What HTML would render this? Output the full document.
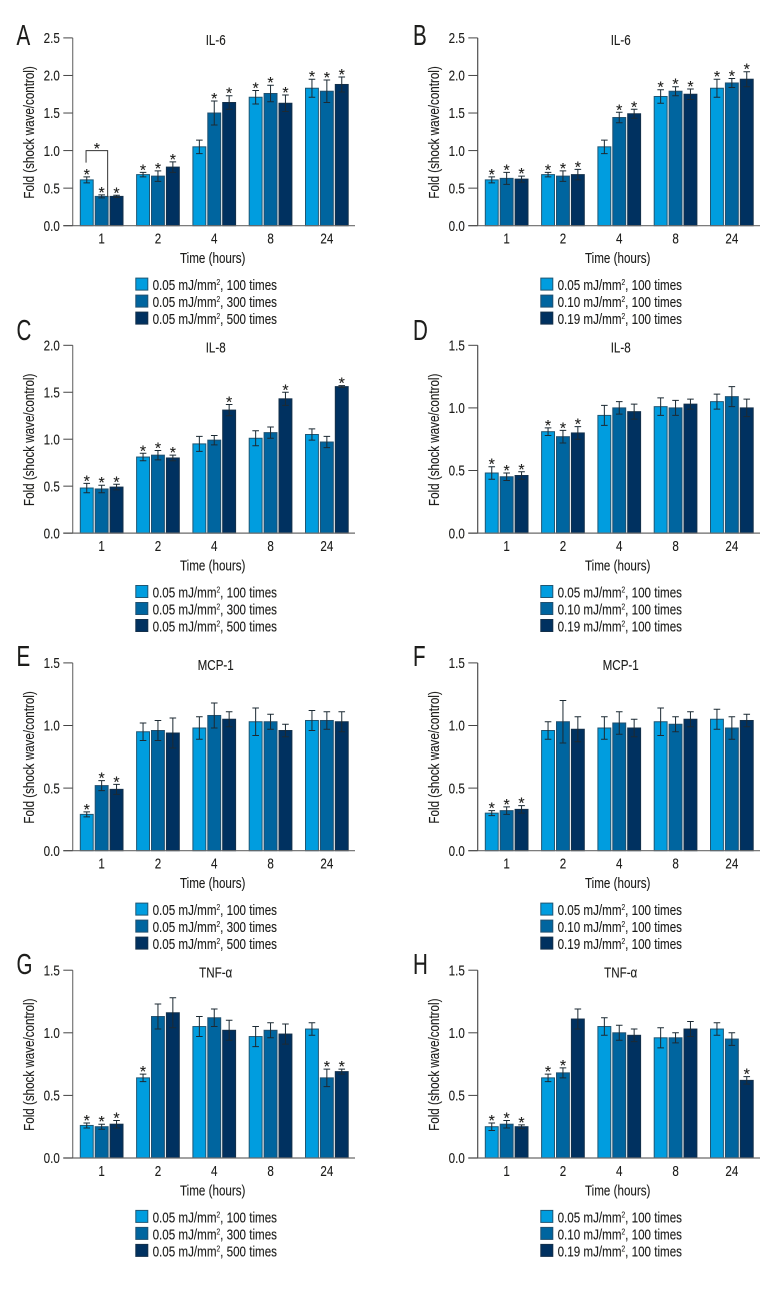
<!DOCTYPE html>
<html lang="en">
<head>
<meta charset="utf-8">
<title>Fold change of cytokines after shock wave</title>
<style>
html,body{margin:0;padding:0;background:#fff;}
svg{display:block;}
text{font-family:"Liberation Sans",sans-serif;fill:#1d1d1b;stroke:#1d1d1b;stroke-width:0.12px;}
</style>
</head>
<body>
<svg id="figure" xmlns="http://www.w3.org/2000/svg" width="780" height="1290" viewBox="0 0 780 1290"></svg>
<script>
// Shared categories and labels
const timeCategories = ['1', '2', '4', '8', '24'];
const legendEnergyLabels = ['0.05 mJ/mm', '0.05 mJ/mm', '0.05 mJ/mm'];
const legendEnergyLabelsDose = ['0.05 mJ/mm', '0.10 mJ/mm', '0.19 mJ/mm'];
const legendTimesLabels = [', 100 times', ', 300 times', ', 500 times'];
const legendTimesLabelsDose = [', 100 times', ', 100 times', ', 100 times'];
const yTicks25 = ['0.0', '0.5', '1.0', '1.5', '2.0', '2.5'];
const yTicks20 = ['0.0', '0.5', '1.0', '1.5', '2.0'];
const yTicks15 = ['0.0', '0.5', '1.0', '1.5'];

// Panel A
const aLow = [0.61, 0.68, 1.05, 1.71, 1.83];
const aMid = [0.39, 0.66, 1.50, 1.76, 1.79];
const aHigh = [0.39, 0.78, 1.64, 1.63, 1.88];
const aLowErr = [0.04, 0.03, 0.09, 0.09, 0.12];
const aMidErr = [0.02, 0.07, 0.16, 0.11, 0.15];
const aHighErr = [0.015, 0.07, 0.09, 0.11, 0.10];
const aStars = [1,1,1, 1,1,1, 0,1,1, 1,1,1, 1,1,1];
// Panel A significance bracket levels: left end, top, right end
const aBracketLevels = [0.84, 1.0, 0.38];

// Panel B
const bLow = [0.61, 0.68, 1.05, 1.72, 1.83];
const bMid = [0.63, 0.66, 1.44, 1.79, 1.90];
const bHigh = [0.62, 0.68, 1.49, 1.75, 1.95];
const bLowErr = [0.04, 0.03, 0.09, 0.09, 0.12];
const bMidErr = [0.08, 0.07, 0.07, 0.06, 0.06];
const bHighErr = [0.04, 0.07, 0.06, 0.07, 0.10];
const bStars = [1,1,1, 1,1,1, 0,1,1, 1,1,1, 1,1,1];

// Panel C
const cLow = [0.48, 0.81, 0.95, 1.01, 1.05];
const cMid = [0.47, 0.83, 0.99, 1.07, 0.97];
const cHigh = [0.49, 0.80, 1.31, 1.43, 1.56];
const cLowErr = [0.05, 0.04, 0.08, 0.08, 0.06];
const cMidErr = [0.04, 0.05, 0.05, 0.06, 0.06];
const cHighErr = [0.03, 0.03, 0.06, 0.07, 0.01];
const cStars = [1,1,1, 1,1,1, 0,0,1, 0,0,1, 0,0,1];

// Panel D
const dLow = [0.48, 0.81, 0.94, 1.01, 1.05];
const dMid = [0.45, 0.77, 1.00, 1.00, 1.09];
const dHigh = [0.46, 0.80, 0.97, 1.03, 1.00];
const dLowErr = [0.05, 0.03, 0.08, 0.07, 0.06];
const dMidErr = [0.03, 0.05, 0.05, 0.06, 0.08];
const dHighErr = [0.03, 0.05, 0.06, 0.04, 0.07];
const dStars = [1,1,1, 1,1,1, 0,0,0, 0,0,0, 0,0,0];

// Panel E
const eLow = [0.29, 0.95, 0.98, 1.03, 1.04];
const eMid = [0.52, 0.96, 1.08, 1.03, 1.04];
const eHigh = [0.49, 0.94, 1.05, 0.96, 1.03];
const eLowErr = [0.02, 0.07, 0.09, 0.11, 0.08];
const eMidErr = [0.04, 0.08, 0.10, 0.06, 0.07];
const eHighErr = [0.04, 0.12, 0.06, 0.05, 0.08];
const eStars = [1,1,1, 0,0,0, 0,0,0, 0,0,0, 0,0,0];

// Panel F
const fLow = [0.30, 0.96, 0.98, 1.03, 1.05];
const fMid = [0.32, 1.03, 1.02, 1.01, 0.98];
const fHigh = [0.33, 0.97, 0.98, 1.05, 1.04];
const fLowErr = [0.02, 0.07, 0.09, 0.11, 0.08];
const fMidErr = [0.03, 0.17, 0.09, 0.06, 0.09];
const fHighErr = [0.03, 0.10, 0.07, 0.06, 0.05];
const fStars = [1,1,1, 0,0,0, 0,0,0, 0,0,0, 0,0,0];

// Panel G
const gLow = [0.26, 0.64, 1.05, 0.97, 1.03];
const gMid = [0.25, 1.13, 1.12, 1.02, 0.64];
const gHigh = [0.27, 1.16, 1.02, 0.99, 0.69];
const gLowErr = [0.02, 0.03, 0.08, 0.08, 0.05];
const gMidErr = [0.02, 0.10, 0.07, 0.06, 0.07];
const gHighErr = [0.03, 0.12, 0.08, 0.08, 0.02];
const gStars = [1,1,1, 1,0,0, 0,0,0, 0,0,0, 0,1,1];

// Panel H
const hLow = [0.25, 0.64, 1.05, 0.96, 1.03];
const hMid = [0.27, 0.68, 1.00, 0.96, 0.95];
const hHigh = [0.25, 1.11, 0.98, 1.03, 0.62];
const hLowErr = [0.03, 0.03, 0.07, 0.08, 0.05];
const hMidErr = [0.03, 0.04, 0.06, 0.04, 0.05];
const hHighErr = [0.015, 0.08, 0.05, 0.06, 0.03];
const hStars = [1,1,1, 1,1,0, 0,0,0, 0,0,0, 0,0,1];

const panels = [
  {id:'a', letter:'A', title:'IL-6', col:0, row:0, ticks:yTicks25, vals:[aLow,aMid,aHigh], errs:[aLowErr,aMidErr,aHighErr], stars:aStars, energy:legendEnergyLabels, times:legendTimesLabels},
  {id:'b', letter:'B', title:'IL-6', col:1, row:0, ticks:yTicks25, vals:[bLow,bMid,bHigh], errs:[bLowErr,bMidErr,bHighErr], stars:bStars, energy:legendEnergyLabelsDose, times:legendTimesLabelsDose},
  {id:'c', letter:'C', title:'IL-8', col:0, row:1, ticks:yTicks20, vals:[cLow,cMid,cHigh], errs:[cLowErr,cMidErr,cHighErr], stars:cStars, energy:legendEnergyLabels, times:legendTimesLabels},
  {id:'d', letter:'D', title:'IL-8', col:1, row:1, ticks:yTicks15, vals:[dLow,dMid,dHigh], errs:[dLowErr,dMidErr,dHighErr], stars:dStars, energy:legendEnergyLabelsDose, times:legendTimesLabelsDose},
  {id:'e', letter:'E', title:'MCP-1', col:0, row:2, ticks:yTicks15, vals:[eLow,eMid,eHigh], errs:[eLowErr,eMidErr,eHighErr], stars:eStars, energy:legendEnergyLabels, times:legendTimesLabels},
  {id:'f', letter:'F', title:'MCP-1', col:1, row:2, ticks:yTicks15, vals:[fLow,fMid,fHigh], errs:[fLowErr,fMidErr,fHighErr], stars:fStars, energy:legendEnergyLabelsDose, times:legendTimesLabelsDose},
  {id:'g', letter:'G', title:'TNF-\u03b1', col:0, row:3, ticks:yTicks15, vals:[gLow,gMid,gHigh], errs:[gLowErr,gMidErr,gHighErr], stars:gStars, energy:legendEnergyLabels, times:legendTimesLabels},
  {id:'h', letter:'H', title:'TNF-\u03b1', col:1, row:3, ticks:yTicks15, vals:[hLow,hMid,hHigh], errs:[hLowErr,hMidErr,hHighErr], stars:hStars, energy:legendEnergyLabelsDose, times:legendTimesLabelsDose}
];

const NS = 'http://www.w3.org/2000/svg';
const root = document.getElementById('figure');
const barColors = ['#009ddf', '#00659f', '#003160'];
const barStrokes = ['#1f5673', '#21506f', '#14304a'];
const rowBaselineOffsets = [0, 307.4, 625, 932.3];
const PLOT_H = 187.8, BAR_W = 12.9, GROUP_STEP = 56.3, BAR_STEP = 14.9, CONDENSE = 0.775, LABEL_SIZE = 15;

function baseline(row) { return 225.7 + rowBaselineOffsets[row]; }
function panelDx(col) { return col * 405; }
function xBar(col, g, s) { return 80.3 + panelDx(col) + g * GROUP_STEP + s * BAR_STEP; }
function xGroup(col, g) { return xBar(col, g, 1) + BAR_W / 2; }
function yValue(row, v, max) { return baseline(row) - (v / max) * PLOT_H; }

function make(tag, parent) {
  const el = document.createElementNS(NS, tag);
  parent.appendChild(el);
  return el;
}
function setAll(el, o) { for (const k in o) el.setAttribute(k, o[k]); }
function place(el, x, y, size, anchor, extra, condense) {
  setAll(el, {transform: 'translate(' + x + ',' + y + ') ' + (extra || '') + ' scale(' + (condense || CONDENSE) + ',1)', 'font-size': size, 'text-anchor': anchor});
}

panels.forEach(function (p) {
  const y0 = baseline(p.row);
  const dx = panelDx(p.col);
  const yMax = parseFloat(p.ticks[p.ticks.length - 1]);
  const axisColor = p.col === 0 ? '#767676' : '#4f4f4f';

  const g = make('g', root);
  
  

  const letter = make('text', g);
  
  
  const letterBase = [45, 340, 666, 974][p.row];
  place(letter, 16.5 + dx - (p.col ? 8.5 : 0), letterBase, 28.5, 'start', '', 0.72);
  letter.textContent = p.letter;

  const title = make('text', g);
  
  
  place(title, 215.7 + dx, y0 - PLOT_H + 7.2, LABEL_SIZE, 'middle');
  title.textContent = p.title;

  const yTitle = make('text', g);
  
  
  place(yTitle, 33.8 + dx, y0 - 93.3, LABEL_SIZE, 'middle', 'rotate(-90)');
  yTitle.textContent = 'Fold (shock wave/control)';

  const xTitle = make('text', g);
  
  
  place(xTitle, 212.7 + dx, y0 + 37.5, LABEL_SIZE, 'middle');
  xTitle.textContent = 'Time (hours)';

  // bars and error bars
  p.vals.forEach(function (series, s) {
    series.forEach(function (v, i) {
      const x = xBar(p.col, i, s);
      const top = yValue(p.row, v, yMax);
      const bar = make('rect', g);
      
      
      setAll(bar, {x: x, y: top, width: BAR_W, height: y0 - top, fill: barColors[s], stroke: barStrokes[s], 'stroke-width': 1});

      const e = p.errs[s][i];
      const yHi = yValue(p.row, v + e, yMax);
      const yLo = yValue(p.row, v - e, yMax);
      const cx = x + BAR_W / 2;
      const err = make('path', g);
      
      
      setAll(err, {d: 'M' + (cx - 3.3) + ' ' + yHi + 'H' + (cx + 3.3) + 'M' + cx + ' ' + yHi + 'V' + yLo + 'M' + (cx - 3.3) + ' ' + yLo + 'H' + (cx + 3.3), fill: 'none', stroke: '#1c2a33', 'stroke-width': 1});

      if (p.stars[i * 3 + s]) {
        const star = make('text', g);
        
        
        setAll(star, {x: cx, y: yHi + 3, 'font-size': 16, 'text-anchor': 'middle'});
        star.textContent = '*';
      }
    });
  });

  // axes
  const yAxis = make('line', g);
  
  
  setAll(yAxis, {x1: 72.7 + dx, x2: 72.7 + dx, y1: y0 - PLOT_H, y2: y0, stroke: axisColor, 'stroke-width': 1.2});

  const xAxis = make('line', g);
  
  
  setAll(xAxis, {x1: 63.3 + dx, x2: 355 + dx, y1: y0, y2: y0, stroke: '#6a6a6a', 'stroke-width': 1.2});

  p.ticks.forEach(function (t) {
    const y = yValue(p.row, parseFloat(t), yMax);
    const tick = make('line', g);
    
    
    setAll(tick, {x1: 63.3 + dx, x2: 72.7 + dx, y1: y, y2: y, stroke: '#444', 'stroke-width': 1});
    const lab = make('text', g);
    
    
    place(lab, 59.8 + dx, y + 5.2, LABEL_SIZE, 'end');
    lab.textContent = t;
  });

  timeCategories.forEach(function (c, i) {
    const lab = make('text', g);
    
    
    place(lab, xGroup(p.col, i), y0 + 18, LABEL_SIZE, 'middle');
    lab.textContent = c;
  });

  // legend
  barColors.forEach(function (color, s) {
    const top = y0 + 52.4 + s * 17;
    const sw = make('rect', g);
    
    
    setAll(sw, {x: 135.8 + dx, y: top, width: 12, height: 12, fill: color, stroke: barStrokes[s], 'stroke-width': 1});

    const t = make('text', g);
    
    
    place(t, 152.6 + dx, top + 12, LABEL_SIZE, 'start');
    const a = make('tspan', t);
    a.textContent = p.energy[s];
    const b = make('tspan', t);
    setAll(b, {dy: -5, 'font-size': 8.5});
    b.textContent = '2';
    const d = make('tspan', t);
    d.setAttribute('dy', 5);
    d.textContent = p.times[s];
  });

  // bracket on panel A
  if (p.id === 'a') {
    const left = xBar(0, 0, 0) + BAR_W / 2 - 0.7;
    const right = xBar(0, 0, 1) + BAR_W / 2 + 6;
    const br = make('path', g);
    
    
    setAll(br, {d: 'M' + left + ' ' + yValue(0, aBracketLevels[0], yMax) + 'V' + yValue(0, aBracketLevels[1], yMax) + 'H' + right + 'V' + yValue(0, aBracketLevels[2], yMax), fill: 'none', stroke: '#333', 'stroke-width': 1});
    const st = make('text', g);
    
    
    setAll(st, {x: (left + right) / 2, y: yValue(0, aBracketLevels[1], yMax) + 3.5, 'font-size': 16, 'text-anchor': 'middle'});
    st.textContent = '*';
  }
});
</script>
</body>
</html>
